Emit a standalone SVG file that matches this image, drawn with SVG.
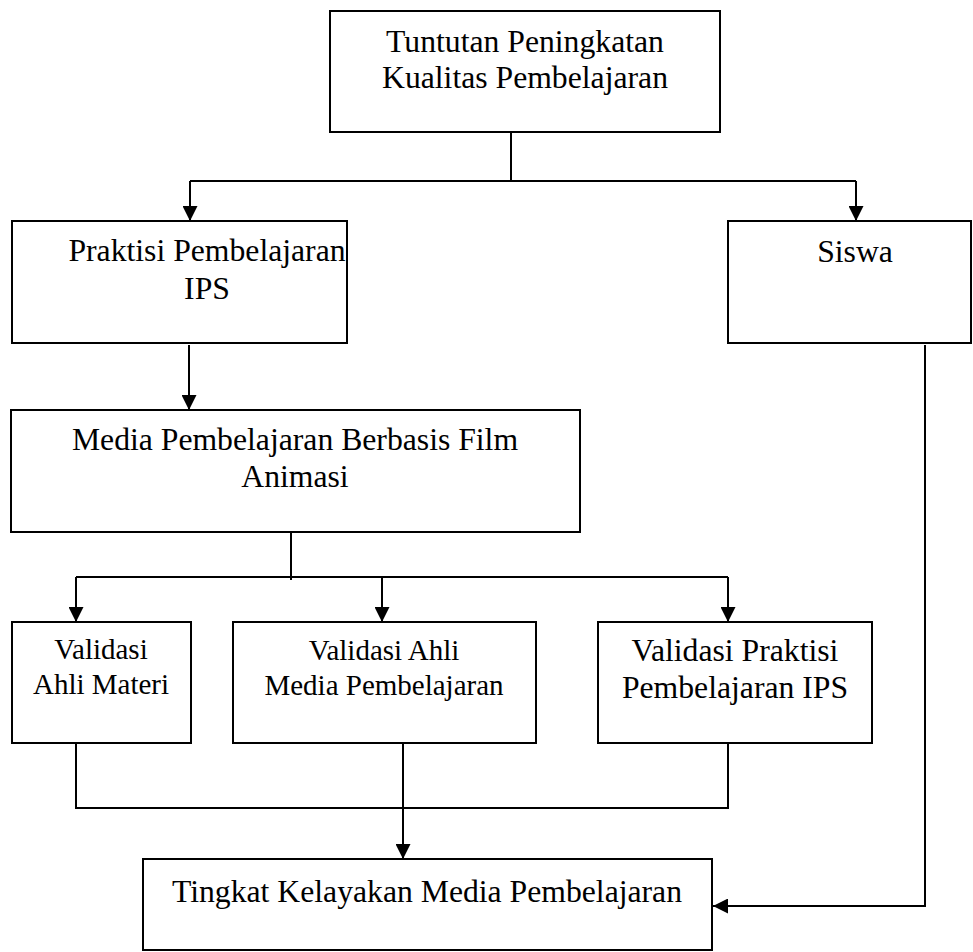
<svg xmlns="http://www.w3.org/2000/svg" width="973" height="952" viewBox="0 0 973 952">
<style>
.box{fill:#fff;stroke:#000;stroke-width:2}
.t{font-family:"Liberation Serif","Times New Roman",serif;font-size:31.7px;fill:#000;text-anchor:middle}
.s{font-size:29px}
.c{fill:none;stroke:#000;stroke-width:2}
</style>
<defs>
<marker id="ah" markerUnits="userSpaceOnUse" markerWidth="16" markerHeight="15" refX="15" refY="7.5" orient="auto">
<path d="M0,0 L15,7.5 L0,15 z" fill="#000"/>
</marker>
</defs>
<rect width="973" height="952" fill="#fff"/>
<g id="connectors">
<path class="c" d="M511,132 V181"/>
<path class="c" d="M190,181 H856"/>
<path class="c" d="M190,181 V221" marker-end="url(#ah)"/>
<path class="c" d="M856,181 V221" marker-end="url(#ah)"/>
<path class="c" d="M189,345 V410" marker-end="url(#ah)"/>
<path class="c" d="M291,532 V580"/>
<path class="c" d="M76,577 H728"/>
<path class="c" d="M76,577 V622" marker-end="url(#ah)"/>
<path class="c" d="M382,577 V622" marker-end="url(#ah)"/>
<path class="c" d="M728,577 V622" marker-end="url(#ah)"/>
<path class="c" d="M76,743 V808 H728 V743"/>
<path class="c" d="M403,743 V859" marker-end="url(#ah)"/>
<path class="c" d="M925,345 V906 H713" marker-end="url(#ah)"/>
</g>
<g id="tuntutan">
<rect class="box" x="330" y="11" width="390" height="121"/>
<text class="t" x="525" y="52">Tuntutan Peningkatan</text>
<text class="t" x="525" y="88">Kualitas Pembelajaran</text>
</g>
<g id="praktisi">
<rect class="box" x="12" y="221" width="335" height="122"/>
<text class="t" x="207" y="261">Praktisi Pembelajaran</text>
<text class="t" x="207" y="299">IPS</text>
</g>
<g id="siswa">
<rect class="box" x="728" y="221" width="243" height="122"/>
<text class="t" x="855" y="262">Siswa</text>
</g>
<g id="media">
<rect class="box" x="11" y="410" width="569" height="122"/>
<text class="t" x="295" y="450">Media Pembelajaran Berbasis Film</text>
<text class="t" x="295" y="487">Animasi</text>
</g>
<g id="validasi-materi">
<rect class="box" x="12" y="622" width="179" height="121"/>
<text class="t s" x="101" y="659">Validasi</text>
<text class="t s" x="101" y="694">Ahli Materi</text>
</g>
<g id="validasi-media">
<rect class="box" x="233" y="622" width="303" height="121"/>
<text class="t s" x="384" y="660">Validasi Ahli</text>
<text class="t s" x="384" y="695">Media Pembelajaran</text>
</g>
<g id="validasi-praktisi">
<rect class="box" x="598" y="622" width="274" height="121"/>
<text class="t" x="735" y="661">Validasi Praktisi</text>
<text class="t" x="735" y="698">Pembelajaran IPS</text>
</g>
<g id="tingkat">
<rect class="box" x="143" y="859" width="569" height="91"/>
<text class="t" x="427" y="902">Tingkat Kelayakan Media Pembelajaran</text>
</g>
</svg>
